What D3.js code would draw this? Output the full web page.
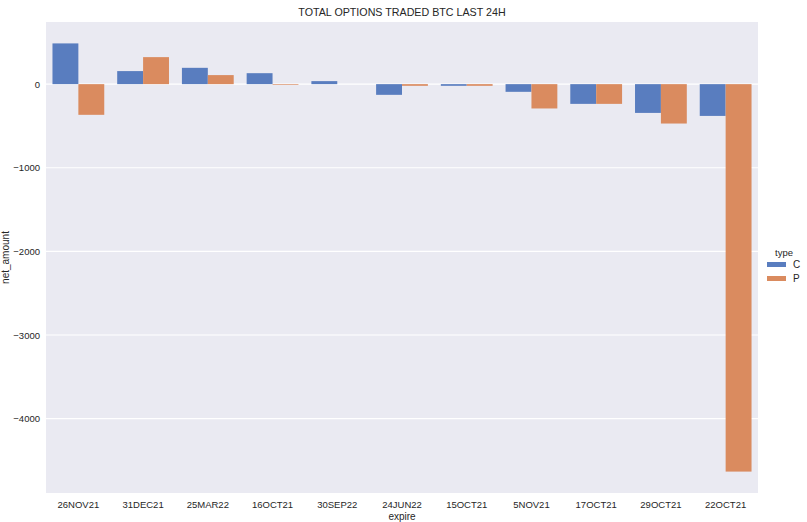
<!DOCTYPE html>
<html>
<head>
<meta charset="utf-8">
<script src="https://cdn.jsdelivr.net/npm/d3@7"></script>
<style>
  body { margin: 0; background: #fff; }
  text { font-family: "Liberation Sans", Arial, sans-serif; fill: #262626; }
</style>
</head>
<body>
<svg width="807" height="522"></svg>
<script>
// data
var expire = ["26NOV21", "31DEC21", "25MAR22", "16OCT21", "30SEP22", "24JUN22",
              "15OCT21", "5NOV21", "17OCT21", "29OCT21", "22OCT21"];
var types = ["C", "P"];
var callAmount = [487, 156, 195, 131, 36, -128, -20, -92, -236, -344, -380];
var putAmount = [-367, 323, 108, -8, null, -20, -20, -291, -236, -471, -4633];
var yTicks = [0, -1000, -2000, -3000, -4000];

var colors = {C: "#597dbf", P: "#da8b5f"};

var svg = d3.select("svg"),
    margin = {top: 22, right: 49, bottom: 29, left: 46},
    width = 712,
    height = 471;

var data = [];
expire.forEach(function (e, i) {
    data.push({expire: e, type: "C", value: callAmount[i]});
    data.push({expire: e, type: "P", value: putAmount[i]});
});
var vals = data.filter(function (d) { return d.value != null; }).map(function (d) { return d.value; });
var lo = Math.min(0, d3.min(vals)), hi = Math.max(0, d3.max(vals));
var pad = (hi - lo) * 0.05;

var x = d3.scaleBand().domain(expire).range([0, width]);
var xInner = d3.scaleBand().domain(types)
    .range([x.bandwidth() * 0.1, x.bandwidth() * 0.9]);
var y = d3.scaleLinear().domain([lo - pad, hi + pad]).range([height, 0]);

var g = svg.append("g")
    .attr("transform", "translate(" + margin.left + "," + margin.top + ")");

g.append("rect")
    .attr("width", width)
    .attr("height", height)
    .attr("fill", "#eaeaf2");

// horizontal grid
g.append("g")
    .selectAll("line")
    .data(yTicks)
    .enter().append("line")
    .attr("x1", 0)
    .attr("x2", width)
    .attr("y1", function (d) { return y(d); })
    .attr("y2", function (d) { return y(d); })
    .attr("stroke", "#fff")
    .attr("stroke-width", 1.2);

g.append("g")
    .selectAll("rect")
    .data(data.filter(function (d) { return d.value != null; }))
    .enter().append("rect")
    .attr("x", function (d) { return x(d.expire) + xInner(d.type); })
    .attr("width", xInner.bandwidth())
    .attr("y", function (d) { return y(Math.max(0, d.value)); })
    .attr("height", function (d) { return Math.abs(y(d.value) - y(0)); })
    .attr("fill", function (d) { return colors[d.type]; });

var yAxis = g.append("g")
    .call(d3.axisLeft(y).tickValues(yTicks).tickSize(0).tickPadding(6).tickFormat(d3.format("d")));
yAxis.select(".domain").remove();
yAxis.selectAll("text").attr("font-size", 9.5).attr("fill", "#262626")
    .style("font-family", "'Liberation Sans', Arial, sans-serif");

var xAxis = g.append("g")
    .attr("transform", "translate(0," + height + ")")
    .call(d3.axisBottom(x).tickSize(0).tickPadding(8));
xAxis.select(".domain").remove();
xAxis.selectAll("text").attr("font-size", 9.5).attr("fill", "#262626")
    .style("font-family", "'Liberation Sans', Arial, sans-serif");

svg.append("text")
    .attr("x", margin.left + width / 2)
    .attr("y", 16)
    .attr("text-anchor", "middle")
    .attr("font-size", 10.7)
    .text("TOTAL OPTIONS TRADED BTC LAST 24H");

svg.append("text")
    .attr("x", margin.left + width / 2)
    .attr("y", 520)
    .attr("text-anchor", "middle")
    .attr("font-size", 10)
    .text("expire");

svg.append("text")
    .attr("transform", "translate(9," + (margin.top + height / 2) + ") rotate(-90)")
    .attr("text-anchor", "middle")
    .attr("font-size", 10)
    .text("net_amount");

// legend
var legend = svg.append("g").attr("transform", "translate(767,256)");
legend.append("text")
    .attr("x", 17)
    .attr("y", 0)
    .attr("text-anchor", "middle")
    .attr("font-size", 9.5)
    .text("type");
var items = legend.selectAll(".item")
    .data(types)
    .enter().append("g")
    .attr("class", "item")
    .attr("transform", function (d, i) { return "translate(0," + (6 + i * 14) + ")"; });
items.append("rect")
    .attr("width", 19)
    .attr("height", 5)
    .attr("fill", function (d) { return colors[d]; });
items.append("text")
    .attr("x", 26)
    .attr("y", 5.5)
    .attr("font-size", 10)
    .text(function (d) { return d; });
</script>
</body>
</html>
